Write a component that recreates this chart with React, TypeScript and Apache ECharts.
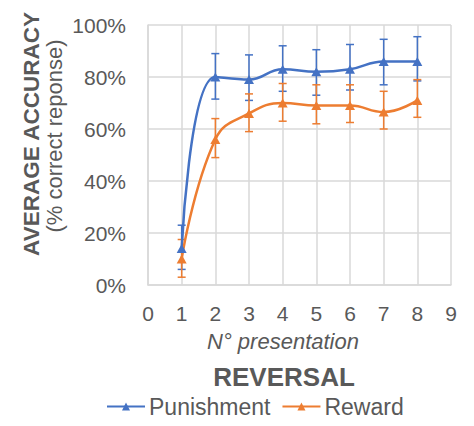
import React, { useEffect, useRef } from "react";
import * as echarts from "echarts";

const presentations = [1, 2, 3, 4, 5, 6, 7, 8];
const punishment = [14, 80, 79, 83, 82, 83, 86, 86];
const punishmentHigh = [23, 89, 88.5, 92, 90.5, 92.5, 94.5, 95.5];
const punishmentLow = [6, 71.5, 71, 74.5, 73, 75, 77, 78.5];
const reward = [10, 56, 66, 70, 69, 69, 66.5, 71];
const rewardHigh = [17.5, 64, 73.5, 77.5, 77, 77, 74.5, 79];
const rewardLow = [3, 49, 59, 63, 62, 62.5, 60, 64.5];

const BLUE = "#4472C4";
const ORANGE = "#ED7D31";
const TEXT = "#595959";
const GRID = "#D9D9D9";
const FONT = "'Liberation Sans', Arial, sans-serif";

function errorSeries(name: string, color: string, low: number[], high: number[]) {
  return {
    type: "custom",
    name: name + " error",
    data: presentations.map((x, i) => [x, low[i], high[i]]),
    z: 3,
    silent: true,
    renderItem: (params: any, api: any) => {
      const x = api.value(0);
      const lo = api.coord([x, api.value(1)]);
      const hi = api.coord([x, api.value(2)]);
      const hw = 4;
      const style = { stroke: color, lineWidth: 1.5 };
      return {
        type: "group",
        children: [
          { type: "line", shape: { x1: lo[0], y1: lo[1], x2: hi[0], y2: hi[1] }, style },
          { type: "line", shape: { x1: hi[0] - hw, y1: hi[1], x2: hi[0] + hw, y2: hi[1] }, style },
          { type: "line", shape: { x1: lo[0] - hw, y1: lo[1], x2: lo[0] + hw, y2: lo[1] }, style },
        ],
      };
    },
  };
}

export default function App() {
  const ref = useRef<HTMLDivElement>(null);
  useEffect(() => {
    if (!ref.current) return;
    const chart = echarts.init(ref.current, null, { renderer: "svg" });
    chart.setOption({
      animation: false,
      textStyle: { fontFamily: FONT },
      grid: { left: 148, right: 23, top: 25, bottom: 141, containLabel: false, outerBoundsMode: "none" },
      xAxis: {
        type: "value",
        min: 0,
        max: 9,
        interval: 1,
        axisLine: { show: true, lineStyle: { color: GRID, width: 1.5 } },
        axisTick: { show: false },
        splitLine: { show: true, lineStyle: { color: GRID, width: 1.5 } },
        axisLabel: { color: TEXT, fontSize: 21, margin: 18, fontFamily: FONT },
      },
      yAxis: {
        type: "value",
        min: 0,
        max: 100,
        interval: 20,
        axisLine: { show: true, lineStyle: { color: GRID, width: 1.5 } },
        axisTick: { show: false },
        splitLine: { show: true, lineStyle: { color: GRID, width: 1.5 } },
        axisLabel: { color: TEXT, fontSize: 21, margin: 22, formatter: "{value}%", fontFamily: FONT },
      },
      legend: {
        data: ["Punishment", "Reward"],
        left: 106,
        top: 395,
        padding: 0,
        itemWidth: 38,
        itemHeight: 10,
        itemGap: 11,
        textStyle: { color: TEXT, fontSize: 23, fontFamily: FONT, padding: [0, 0, 0, -1] },
      },
      graphic: [
        {
          type: "text",
          x: 31,
          y: 134,
          rotation: Math.PI / 2,
          style: {
            text: "AVERAGE ACCURACY",
            fill: TEXT,
            font: `bold 22.5px ${FONT}`,
            textAlign: "center",
            textVerticalAlign: "middle",
          },
        },
        {
          type: "text",
          x: 54,
          y: 136,
          rotation: Math.PI / 2,
          style: {
            text: "(% correct reponse)",
            fill: TEXT,
            font: `22px ${FONT}`,
            textAlign: "center",
            textVerticalAlign: "middle",
          },
        },
        {
          type: "text",
          x: 283,
          y: 341,
          style: {
            text: "N° presentation",
            fill: TEXT,
            font: `italic 22px ${FONT}`,
            textAlign: "center",
            textVerticalAlign: "middle",
          },
        },
        {
          type: "text",
          x: 284,
          y: 377,
          style: {
            text: "REVERSAL",
            fill: TEXT,
            font: `bold 26px ${FONT}`,
            textAlign: "center",
            textVerticalAlign: "middle",
          },
        },
      ],
      series: [
        {
          type: "line",
          name: "Punishment",
          data: presentations.map((x, i) => [x, punishment[i]]),
          smooth: 0.45,
          symbol: "triangle",
          symbolSize: [10, 9],
          lineStyle: { color: BLUE, width: 2.5 },
          itemStyle: { color: BLUE },
          z: 4,
        },
        {
          type: "line",
          name: "Reward",
          data: presentations.map((x, i) => [x, reward[i]]),
          smooth: 0.45,
          symbol: "triangle",
          symbolSize: [10, 9],
          lineStyle: { color: ORANGE, width: 2.5 },
          itemStyle: { color: ORANGE },
          z: 4,
        },
        errorSeries("Punishment", BLUE, punishmentLow, punishmentHigh),
        errorSeries("Reward", ORANGE, rewardLow, rewardHigh),
      ],
    });
    return () => chart.dispose();
  }, []);
  return (
    <div
      ref={ref}
      style={{ position: "fixed", left: 0, top: 0, width: 474, height: 426, background: "#fff" }}
    />
  );
}
